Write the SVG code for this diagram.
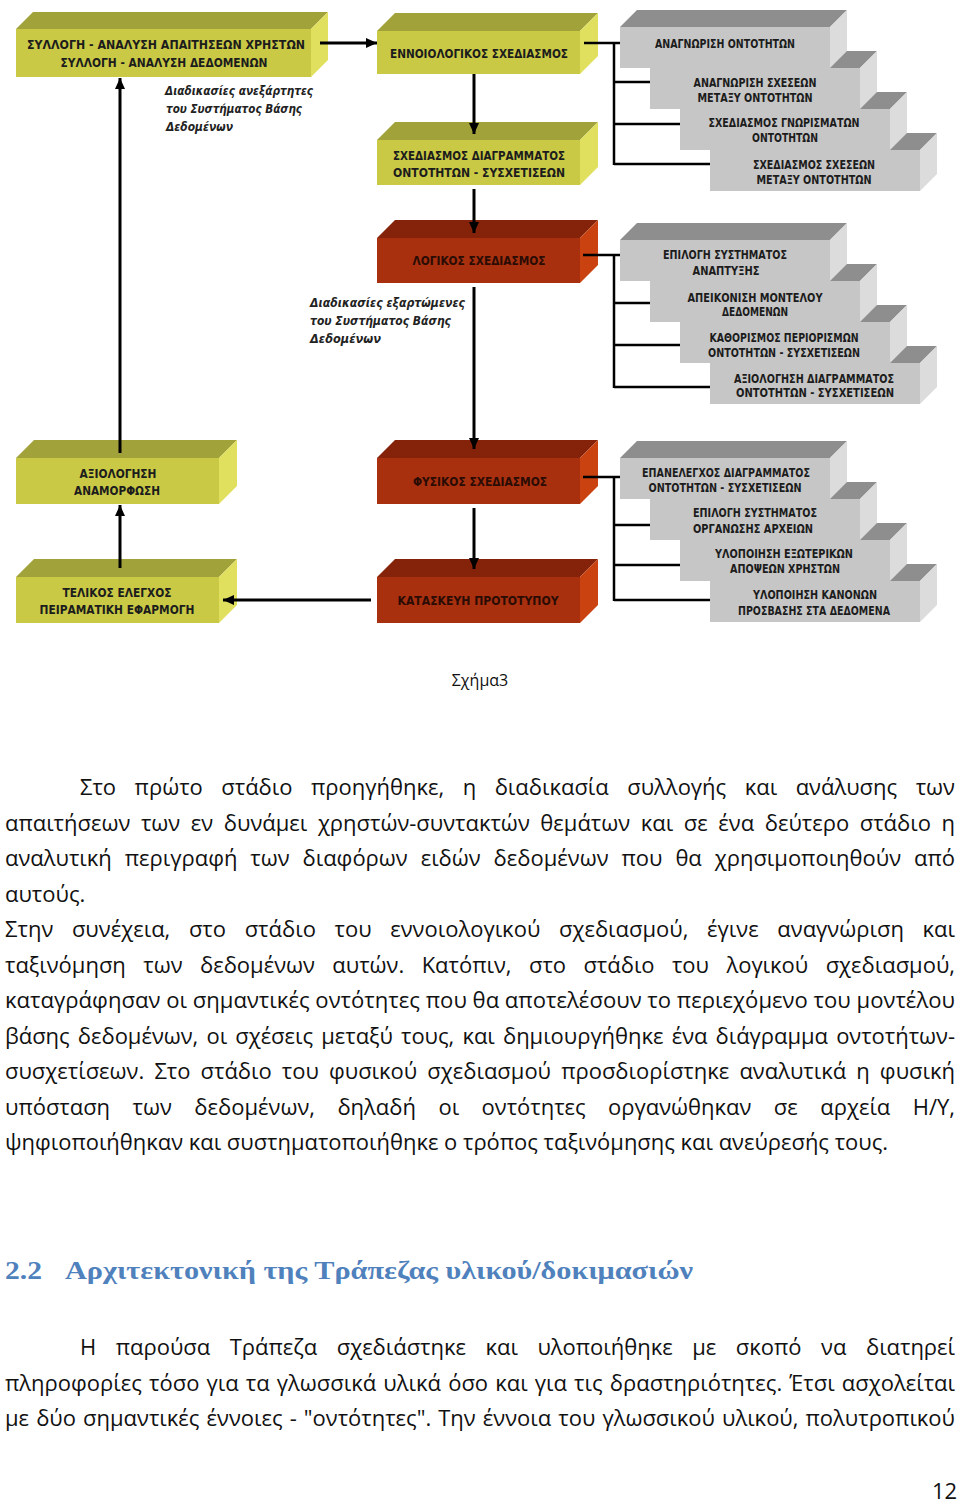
<svg xmlns="http://www.w3.org/2000/svg" width="960" height="1504" viewBox="0 0 960 1504">
<style>
.yf{fill:#c9c946}.yt{fill:#a2a23a}.yr{fill:#e0e05e}
.rf{fill:#a8300f}.rt{fill:#85230a}.rr{fill:#c9420f}
.gf{fill:#c6c6c6}.gt{fill:#8e8e8e}.gr{fill:#dcdcdc}
.lbl{font-family:"DejaVu Sans Condensed","DejaVu Sans",sans-serif;font-stretch:condensed;font-weight:bold;font-size:12px;fill:#1c1c1c;text-anchor:middle}
.rl{fill:#2a0c04}
.note{font-family:"DejaVu Sans",sans-serif;font-style:italic;font-weight:bold;font-size:11.5px;fill:#222}
.con{stroke:#000;stroke-width:3;fill:none}
.br{stroke:#000;stroke-width:2.5;fill:none}
.body{font-family:"Open Sans",sans-serif;font-size:22px;fill:#111}
.cap{font-family:"Open Sans",sans-serif;font-size:16px;fill:#111;text-anchor:middle}
.h2{font-family:"Liberation Serif",serif;font-weight:bold;font-size:26px;fill:#4f81bd}
</style>
<defs>
<marker id="ah" markerUnits="userSpaceOnUse" markerWidth="12" markerHeight="12" refX="11" refY="5" orient="auto">
<path d="M0,0 L11,5 L0,10 Z" fill="#000"/>
</marker>
</defs>

<g id="n-syllogi">
<polygon class="yt" points="16,29 33,12 328,12 311,29"/>
<polygon class="yr" points="311,29 328,12 328,60 311,77"/>
<rect class="yf" x="16" y="29" width="295" height="48"/>
<text class="lbl" x="166" y="48.5" textLength="278" lengthAdjust="spacingAndGlyphs">ΣΥΛΛΟΓΗ - ΑΝΑΛΥΣΗ ΑΠΑΙΤΗΣΕΩΝ ΧΡΗΣΤΩΝ</text>
<text class="lbl" x="164" y="66.5" textLength="207" lengthAdjust="spacingAndGlyphs">ΣΥΛΛΟΓΗ - ΑΝΑΛΥΣΗ ΔΕΔΟΜΕΝΩΝ</text>
</g>

<g id="n-ennoiologikos">
<polygon class="yt" points="377,31 395,13 598,13 580,31"/>
<polygon class="yr" points="580,31 598,13 598,56 580,74"/>
<rect class="yf" x="377" y="31" width="203" height="43"/>
<text class="lbl" x="479" y="57.5" textLength="178" lengthAdjust="spacingAndGlyphs">ΕΝΝΟΙΟΛΟΓΙΚΟΣ ΣΧΕΔΙΑΣΜΟΣ</text>
</g>

<g id="n-diagramma">
<polygon class="yt" points="377,140 395,122 598,122 580,140"/>
<polygon class="yr" points="580,140 598,122 598,167 580,185"/>
<rect class="yf" x="377" y="140" width="203" height="45"/>
<text class="lbl" x="479" y="159.5" textLength="172" lengthAdjust="spacingAndGlyphs">ΣΧΕΔΙΑΣΜΟΣ ΔΙΑΓΡΑΜΜΑΤΟΣ</text>
<text class="lbl" x="479" y="176.5" textLength="172" lengthAdjust="spacingAndGlyphs">ΟΝΤΟΤΗΤΩΝ - ΣΥΣΧΕΤΙΣΕΩΝ</text>
</g>

<g id="n-logikos">
<polygon class="rt" points="377,238 395,220 598,220 580,238"/>
<polygon class="rr" points="580,238 598,220 598,265 580,283"/>
<rect class="rf" x="377" y="238" width="203" height="45"/>
<text class="lbl rl" x="479" y="264.5" textLength="133" lengthAdjust="spacingAndGlyphs">ΛΟΓΙΚΟΣ ΣΧΕΔΙΑΣΜΟΣ</text>
</g>

<g id="n-fysikos">
<polygon class="rt" points="377,458 395,440 598,440 580,458"/>
<polygon class="rr" points="580,458 598,440 598,486 580,504"/>
<rect class="rf" x="377" y="458" width="203" height="46"/>
<text class="lbl rl" x="480" y="485.5" textLength="134" lengthAdjust="spacingAndGlyphs">ΦΥΣΙΚΟΣ ΣΧΕΔΙΑΣΜΟΣ</text>
</g>

<g id="n-kataskeui">
<polygon class="rt" points="377,577 395,559 598,559 580,577"/>
<polygon class="rr" points="580,577 598,559 598,605 580,623"/>
<rect class="rf" x="377" y="577" width="203" height="46"/>
<text class="lbl rl" x="478" y="604.5" textLength="161" lengthAdjust="spacingAndGlyphs">ΚΑΤΑΣΚΕΥΗ ΠΡΟΤΟΤΥΠΟΥ</text>
</g>

<g id="n-axiologisi">
<polygon class="yt" points="16,458 34,440 237,440 219,458"/>
<polygon class="yr" points="219,458 237,440 237,486 219,504"/>
<rect class="yf" x="16" y="458" width="203" height="46"/>
<text class="lbl" x="118" y="477.5" textLength="77" lengthAdjust="spacingAndGlyphs">ΑΞΙΟΛΟΓΗΣΗ</text>
<text class="lbl" x="117" y="494.5" textLength="86" lengthAdjust="spacingAndGlyphs">ΑΝΑΜΟΡΦΩΣΗ</text>
</g>

<g id="n-telikos">
<polygon class="yt" points="16,577 34,559 237,559 219,577"/>
<polygon class="yr" points="219,577 237,559 237,605 219,623"/>
<rect class="yf" x="16" y="577" width="203" height="46"/>
<text class="lbl" x="117" y="596.5" textLength="109" lengthAdjust="spacingAndGlyphs">ΤΕΛΙΚΟΣ ΕΛΕΓΧΟΣ</text>
<text class="lbl" x="117" y="613.5" textLength="155" lengthAdjust="spacingAndGlyphs">ΠΕΙΡΑΜΑΤΙΚΗ ΕΦΑΡΜΟΓΗ</text>
</g>

<!-- stack A -->
<g id="n-a4">
<polygon class="gt" points="710,150 727,133 937,133 920,150"/>
<polygon class="gr" points="920,150 937,133 937,174 920,191"/>
<rect class="gf" x="710" y="150" width="210" height="41"/>
<text class="lbl" x="814" y="168.5" textLength="122" lengthAdjust="spacingAndGlyphs">ΣΧΕΔΙΑΣΜΟΣ ΣΧΕΣΕΩΝ</text>
<text class="lbl" x="814" y="183.5" textLength="115" lengthAdjust="spacingAndGlyphs">ΜΕΤΑΞΥ ΟΝΤΟΤΗΤΩΝ</text>
</g>
<g id="n-a3">
<polygon class="gt" points="680,109 697,92 907,92 890,109"/>
<polygon class="gr" points="890,109 907,92 907,133 890,150"/>
<rect class="gf" x="680" y="109" width="210" height="41"/>
<text class="lbl" x="784" y="126.5" textLength="151" lengthAdjust="spacingAndGlyphs">ΣΧΕΔΙΑΣΜΟΣ ΓΝΩΡΙΣΜΑΤΩΝ</text>
<text class="lbl" x="785" y="141.5" textLength="66" lengthAdjust="spacingAndGlyphs">ΟΝΤΟΤΗΤΩΝ</text>
</g>
<g id="n-a2">
<polygon class="gt" points="650,68 667,51 877,51 860,68"/>
<polygon class="gr" points="860,68 877,51 877,92 860,109"/>
<rect class="gf" x="650" y="68" width="210" height="41"/>
<text class="lbl" x="755" y="86.5" textLength="123" lengthAdjust="spacingAndGlyphs">ΑΝΑΓΝΩΡΙΣΗ ΣΧΕΣΕΩΝ</text>
<text class="lbl" x="755" y="101.5" textLength="115" lengthAdjust="spacingAndGlyphs">ΜΕΤΑΞΥ ΟΝΤΟΤΗΤΩΝ</text>
</g>
<g id="n-a1">
<polygon class="gt" points="620,27 637,10 847,10 830,27"/>
<polygon class="gr" points="830,27 847,10 847,51 830,68"/>
<rect class="gf" x="620" y="27" width="210" height="41"/>
<text class="lbl" x="725" y="47.5" textLength="140" lengthAdjust="spacingAndGlyphs">ΑΝΑΓΝΩΡΙΣΗ ΟΝΤΟΤΗΤΩΝ</text>
</g>

<!-- stack B -->
<g id="n-b4">
<polygon class="gt" points="710,363 727,346 937,346 920,363"/>
<polygon class="gr" points="920,363 937,346 937,387 920,404"/>
<rect class="gf" x="710" y="363" width="210" height="41"/>
<text class="lbl" x="814" y="382.5" textLength="160" lengthAdjust="spacingAndGlyphs">ΑΞΙΟΛΟΓΗΣΗ ΔΙΑΓΡΑΜΜΑΤΟΣ</text>
<text class="lbl" x="815" y="396.5" textLength="158" lengthAdjust="spacingAndGlyphs">ΟΝΤΟΤΗΤΩΝ - ΣΥΣΧΕΤΙΣΕΩΝ</text>
</g>
<g id="n-b3">
<polygon class="gt" points="680,322 697,305 907,305 890,322"/>
<polygon class="gr" points="890,322 907,305 907,346 890,363"/>
<rect class="gf" x="680" y="322" width="210" height="41"/>
<text class="lbl" x="784" y="341.5" textLength="149" lengthAdjust="spacingAndGlyphs">ΚΑΘΟΡΙΣΜΟΣ ΠΕΡΙΟΡΙΣΜΩΝ</text>
<text class="lbl" x="784" y="356.5" textLength="152" lengthAdjust="spacingAndGlyphs">ΟΝΤΟΤΗΤΩΝ - ΣΥΣΧΕΤΙΣΕΩΝ</text>
</g>
<g id="n-b2">
<polygon class="gt" points="650,281 667,264 877,264 860,281"/>
<polygon class="gr" points="860,281 877,264 877,305 860,322"/>
<rect class="gf" x="650" y="281" width="210" height="41"/>
<text class="lbl" x="755" y="301.5" textLength="135" lengthAdjust="spacingAndGlyphs">ΑΠΕΙΚΟΝΙΣΗ ΜΟΝΤΕΛΟΥ</text>
<text class="lbl" x="755" y="315.5" textLength="66" lengthAdjust="spacingAndGlyphs">ΔΕΔΟΜΕΝΩΝ</text>
</g>
<g id="n-b1">
<polygon class="gt" points="620,240 637,223 847,223 830,240"/>
<polygon class="gr" points="830,240 847,223 847,264 830,281"/>
<rect class="gf" x="620" y="240" width="210" height="41"/>
<text class="lbl" x="725" y="258.5" textLength="124" lengthAdjust="spacingAndGlyphs">ΕΠΙΛΟΓΗ ΣΥΣΤΗΜΑΤΟΣ</text>
<text class="lbl" x="726" y="274.5" textLength="67" lengthAdjust="spacingAndGlyphs">ΑΝΑΠΤΥΞΗΣ</text>
</g>

<!-- stack C -->
<g id="n-c4">
<polygon class="gt" points="710,581 727,564 937,564 920,581"/>
<polygon class="gr" points="920,581 937,564 937,605 920,622"/>
<rect class="gf" x="710" y="581" width="210" height="41"/>
<text class="lbl" x="815" y="598.5" textLength="124" lengthAdjust="spacingAndGlyphs">ΥΛΟΠΟΙΗΣΗ ΚΑΝΟΝΩΝ</text>
<text class="lbl" x="814" y="614.5" textLength="152" lengthAdjust="spacingAndGlyphs">ΠΡΟΣΒΑΣΗΣ ΣΤΑ ΔΕΔΟΜΕΝΑ</text>
</g>
<g id="n-c3">
<polygon class="gt" points="680,540 697,523 907,523 890,540"/>
<polygon class="gr" points="890,540 907,523 907,564 890,581"/>
<rect class="gf" x="680" y="540" width="210" height="41"/>
<text class="lbl" x="784" y="557.5" textLength="138" lengthAdjust="spacingAndGlyphs">ΥΛΟΠΟΙΗΣΗ ΕΞΩΤΕΡΙΚΩΝ</text>
<text class="lbl" x="785" y="572.5" textLength="110" lengthAdjust="spacingAndGlyphs">ΑΠΟΨΕΩΝ ΧΡΗΣΤΩΝ</text>
</g>
<g id="n-c2">
<polygon class="gt" points="650,499 667,482 877,482 860,499"/>
<polygon class="gr" points="860,499 877,482 877,523 860,540"/>
<rect class="gf" x="650" y="499" width="210" height="41"/>
<text class="lbl" x="755" y="516.5" textLength="124" lengthAdjust="spacingAndGlyphs">ΕΠΙΛΟΓΗ ΣΥΣΤΗΜΑΤΟΣ</text>
<text class="lbl" x="753" y="532.5" textLength="120" lengthAdjust="spacingAndGlyphs">ΟΡΓΑΝΩΣΗΣ ΑΡΧΕΙΩΝ</text>
</g>
<g id="n-c1">
<polygon class="gt" points="620,458 637,441 847,441 830,458"/>
<polygon class="gr" points="830,458 847,441 847,482 830,499"/>
<rect class="gf" x="620" y="458" width="210" height="41"/>
<text class="lbl" x="726" y="476.5" textLength="168" lengthAdjust="spacingAndGlyphs">ΕΠΑΝΕΛΕΓΧΟΣ ΔΙΑΓΡΑΜΜΑΤΟΣ</text>
<text class="lbl" x="725" y="491.5" textLength="153" lengthAdjust="spacingAndGlyphs">ΟΝΤΟΤΗΤΩΝ - ΣΥΣΧΕΤΙΣΕΩΝ</text>
</g>

<g id="notes">
<text class="note" x="165" y="95" textLength="148" lengthAdjust="spacingAndGlyphs">Διαδικασίες ανεξάρτητες</text>
<text class="note" x="166" y="113" textLength="136" lengthAdjust="spacingAndGlyphs">του Συστήματος Βάσης</text>
<text class="note" x="166" y="131" textLength="67" lengthAdjust="spacingAndGlyphs">Δεδομένων</text>
<text class="note" x="310" y="307" textLength="155" lengthAdjust="spacingAndGlyphs">Διαδικασίες εξαρτώμενες</text>
<text class="note" x="310" y="325" textLength="141" lengthAdjust="spacingAndGlyphs">του Συστήματος Βάσης</text>
<text class="note" x="310" y="343" textLength="71" lengthAdjust="spacingAndGlyphs">Δεδομένων</text>
</g>

<g id="connectors">
<line class="con" x1="320" y1="43" x2="377" y2="43" marker-end="url(#ah)"/>
<line class="con" x1="474" y1="74" x2="474" y2="134" marker-end="url(#ah)"/>
<line class="con" x1="474" y1="189" x2="474" y2="233" marker-end="url(#ah)"/>
<line class="con" x1="474" y1="287" x2="474" y2="449" marker-end="url(#ah)"/>
<line class="con" x1="474" y1="508" x2="474" y2="569" marker-end="url(#ah)"/>
<line class="con" x1="371" y1="600" x2="223" y2="600" marker-end="url(#ah)"/>
<line class="con" x1="120" y1="568" x2="120" y2="505" marker-end="url(#ah)"/>
<line class="con" x1="120" y1="453" x2="120" y2="78" marker-end="url(#ah)"/>
<path class="br" d="M584,43 H614 M614,42 V165 M614,43 H620 M614,82 H650 M614,124 H680 M614,164 H710"/>
<path class="br" d="M583,255 H614 M614,254 V388 M614,303 H650 M614,345 H680 M614,387 H710 M614,255 H620"/>
<path class="br" d="M583,477 H614 M614,476 V601 M614,477 H620 M614,525 H650 M614,565 H680 M614,600 H710"/>
</g>

<text class="cap" x="480" y="686">Σχήμα3</text>

<g id="text">
<text class="body" x="80" y="795" word-spacing="12.8" textLength="875" lengthAdjust="spacing">Στο πρώτο στάδιο προηγήθηκε, η διαδικασία συλλογής και ανάλυσης των</text>
<text class="body" x="5" y="831" word-spacing="4.9" textLength="950" lengthAdjust="spacing">απαιτήσεων των εν δυνάμει χρηστών-συντακτών θεμάτων και σε ένα δεύτερο στάδιο η</text>
<text class="body" x="5" y="866" word-spacing="7.2" textLength="950" lengthAdjust="spacing">αναλυτική περιγραφή των διαφόρων ειδών δεδομένων που θα χρησιμοποιηθούν από</text>
<text class="body" x="5" y="902">αυτούς.</text>
<text class="body" x="5" y="937" word-spacing="12.9" textLength="950" lengthAdjust="spacing">Στην συνέχεια, στο στάδιο του εννοιολογικού σχεδιασμού, έγινε αναγνώριση και</text>
<text class="body" x="5" y="973" word-spacing="11.7" textLength="950" lengthAdjust="spacing">ταξινόμηση των δεδομένων αυτών. Κατόπιν, στο στάδιο του λογικού σχεδιασμού,</text>
<text class="body" x="5" y="1008" textLength="950" lengthAdjust="spacingAndGlyphs">καταγράφησαν οι σημαντικές οντότητες που θα αποτελέσουν το περιεχόμενο του μοντέλου</text>
<text class="body" x="5" y="1044" word-spacing="2.5" textLength="950" lengthAdjust="spacing">βάσης δεδομένων, οι σχέσεις μεταξύ τους, και δημιουργήθηκε ένα διάγραμμα οντοτήτων-</text>
<text class="body" x="5" y="1079" word-spacing="4.4" textLength="950" lengthAdjust="spacing">συσχετίσεων. Στο στάδιο του φυσικού σχεδιασμού προσδιορίστηκε αναλυτικά η φυσική</text>
<text class="body" x="5" y="1115" word-spacing="16.8" textLength="950" lengthAdjust="spacing">υπόσταση των δεδομένων, δηλαδή οι οντότητες οργανώθηκαν σε αρχεία Η/Υ,</text>
<text class="body" x="5" y="1150" textLength="883" lengthAdjust="spacingAndGlyphs">ψηφιοποιήθηκαν και συστηματοποιήθηκε ο τρόπος ταξινόμησης και ανεύρεσής τους.</text>
<text class="h2" x="5" y="1279" textLength="37" lengthAdjust="spacingAndGlyphs">2.2</text>
<text class="h2" x="65" y="1279" textLength="628" lengthAdjust="spacingAndGlyphs">Αρχιτεκτονική της Τράπεζας υλικού/δοκιμασιών</text>
<text class="body" x="80" y="1355" word-spacing="13.9" textLength="875" lengthAdjust="spacing">Η παρούσα Τράπεζα σχεδιάστηκε και υλοποιήθηκε με σκοπό να διατηρεί</text>
<text class="body" x="5" y="1391" word-spacing="1.4" textLength="950" lengthAdjust="spacing">πληροφορίες τόσο για τα γλωσσικά υλικά όσο και για τις δραστηριότητες. Έτσι ασχολείται</text>
<text class="body" x="5" y="1426" word-spacing="1.4" textLength="950" lengthAdjust="spacing">με δύο σημαντικές έννοιες - "οντότητες". Την έννοια του γλωσσικού υλικού, πολυτροπικού</text>
<text class="body" x="932" y="1499" font-size="19">12</text>
</g>
</svg>
